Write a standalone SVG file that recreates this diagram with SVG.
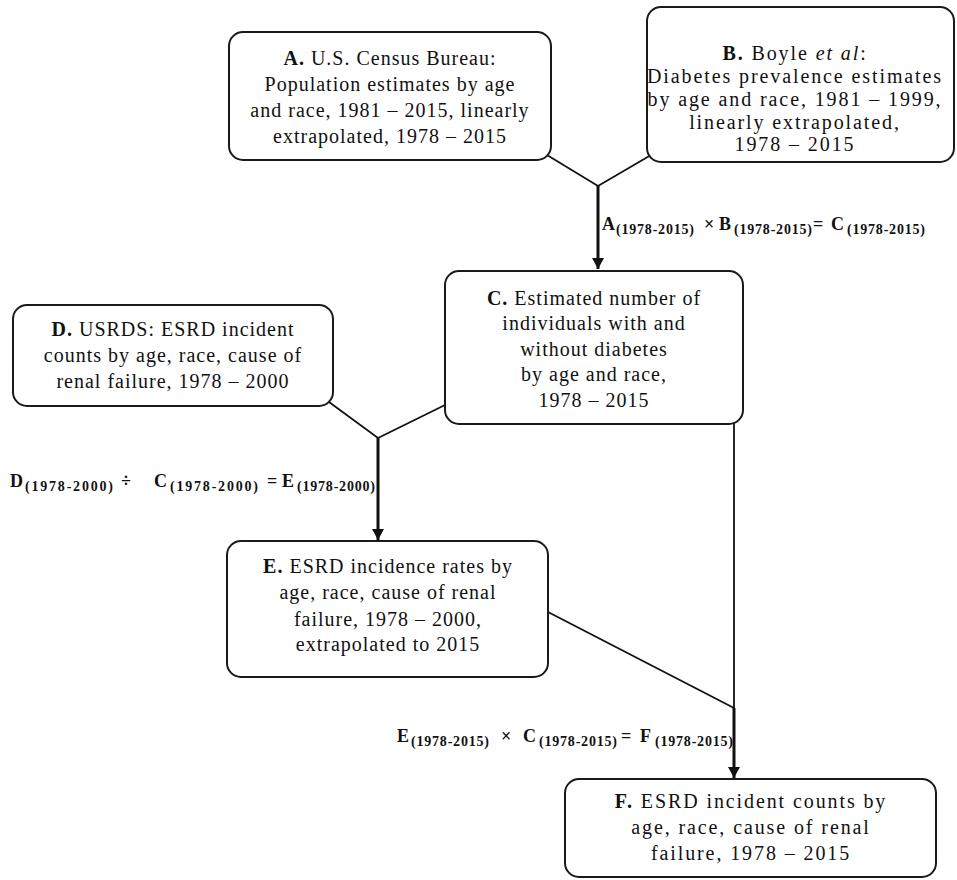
<svg xmlns="http://www.w3.org/2000/svg" width="957" height="880" viewBox="0 0 957 880">
<style>
.box{fill:#fff;stroke:#1a1a1a;stroke-width:2}
.t{font-family:"Liberation Serif","Times New Roman",serif;font-size:20px;fill:#111;text-anchor:middle;letter-spacing:1px}
.wide{letter-spacing:1.9px}
.b{font-weight:bold}
.ln{fill:none;stroke:#111;stroke-width:1.8}
.ar{fill:none;stroke:#111;stroke-width:3}
.f{font-family:"Liberation Serif","Times New Roman",serif;font-weight:bold;font-size:18px;fill:#111}
.s{font-size:14px;letter-spacing:0.8px}
.s2{font-size:14px;letter-spacing:1.8px}
</style>
<defs>
<marker id="ah" markerUnits="userSpaceOnUse" markerWidth="14" markerHeight="14" refX="11" refY="6" orient="auto">
<path d="M0,0 L11,6 L0,12 Z" fill="#111"/>
</marker>
</defs>

<g id="connectors">
<polyline class="ln" points="547,155 598,186 651,155"/>
<line class="ar" x1="598" y1="186" x2="598" y2="269" marker-end="url(#ah)"/>
<polyline class="ln" points="329,402 378,438 445,405"/>
<line class="ar" x1="378" y1="438" x2="378" y2="540" marker-end="url(#ah)"/>
<line class="ln" x1="734" y1="422" x2="734" y2="708"/>
<line class="ln" x1="548" y1="612" x2="734" y2="708"/>
<line class="ar" x1="734" y1="708" x2="734" y2="778" marker-end="url(#ah)"/>
</g>

<g id="formula1">
<text class="f" y="230"><tspan x="602">A</tspan><tspan class="s" x="616" dy="4">(1978-2015)</tspan><tspan x="704" dy="-4">×</tspan><tspan x="719">B</tspan><tspan class="s" x="734" dy="4">(1978-2015)</tspan><tspan x="813" dy="-4">=</tspan><tspan x="831">C</tspan><tspan class="s" x="847" dy="4">(1978-2015)</tspan></text>
</g>
<g id="formula2">
<text class="f" y="487"><tspan x="10">D</tspan><tspan class="s2" x="25" dy="4">(1978-2000)</tspan><tspan x="121" dy="-4">÷</tspan><tspan x="154">C</tspan><tspan class="s2" x="170" dy="4">(1978-2000)</tspan><tspan x="267" dy="-4">=</tspan><tspan x="282">E</tspan><tspan class="s" x="297" dy="4">(1978-2000)</tspan></text>
</g>
<g id="formula3">
<text class="f" y="742"><tspan x="397">E</tspan><tspan class="s" x="411" dy="4">(1978-2015)</tspan><tspan x="501" dy="-4">×</tspan><tspan x="523">C</tspan><tspan class="s" x="539" dy="4">(1978-2015)</tspan><tspan x="621" dy="-4">=</tspan><tspan x="640">F</tspan><tspan class="s" x="655" dy="4">(1978-2015)</tspan></text>
</g>

<g id="nodeA">
<rect class="box" x="229" y="32" width="322" height="128" rx="14"/>
<text class="t" x="390" y="65"><tspan class="b">A.</tspan> U.S. Census Bureau:</text>
<text class="t" x="390" y="91">Population estimates by age</text>
<text class="t" x="390" y="117">and race, 1981 – 2015, linearly</text>
<text class="t" x="390" y="143">extrapolated, 1978 – 2015</text>
</g>

<g id="nodeB">
<rect class="box" x="647" y="7" width="307" height="155" rx="14"/>
<text class="t wide" x="795" y="60"><tspan class="b">B.</tspan> Boyle <tspan font-style="italic">et al</tspan>:</text>
<text class="t wide" x="795" y="83">Diabetes prevalence estimates</text>
<text class="t wide" x="795" y="106">by age and race, 1981 – 1999,</text>
<text class="t wide" x="795" y="129">linearly extrapolated,</text>
<text class="t wide" x="795" y="151">1978 – 2015</text>
</g>

<g id="nodeC">
<rect class="box" x="445" y="271" width="298" height="153" rx="14"/>
<text class="t" x="594" y="305"><tspan class="b">C.</tspan> Estimated number of</text>
<text class="t" x="594" y="330">individuals with and</text>
<text class="t" x="594" y="356">without diabetes</text>
<text class="t" x="594" y="381">by age and race,</text>
<text class="t" x="594" y="407">1978 – 2015</text>
</g>

<g id="nodeD">
<rect class="box" x="13" y="305" width="320" height="101" rx="14"/>
<text class="t" x="173" y="336"><tspan class="b">D.</tspan> USRDS: ESRD incident</text>
<text class="t" x="173" y="362">counts by age, race, cause of</text>
<text class="t" x="173" y="388">renal failure, 1978 – 2000</text>
</g>

<g id="nodeE">
<rect class="box" x="227" y="541" width="321" height="136" rx="14"/>
<text class="t" x="388" y="573"><tspan class="b">E.</tspan> ESRD incidence rates by</text>
<text class="t" x="388" y="599">age, race, cause of renal</text>
<text class="t" x="388" y="626">failure, 1978 – 2000,</text>
<text class="t" x="388" y="651">extrapolated to 2015</text>
</g>

<g id="nodeF">
<rect class="box" x="565" y="779" width="371" height="98" rx="14"/>
<text class="t wide" x="751" y="808"><tspan class="b">F.</tspan> ESRD incident counts by</text>
<text class="t wide" x="751" y="834">age, race, cause of renal</text>
<text class="t wide" x="751" y="860">failure, 1978 – 2015</text>
</g>
</svg>
